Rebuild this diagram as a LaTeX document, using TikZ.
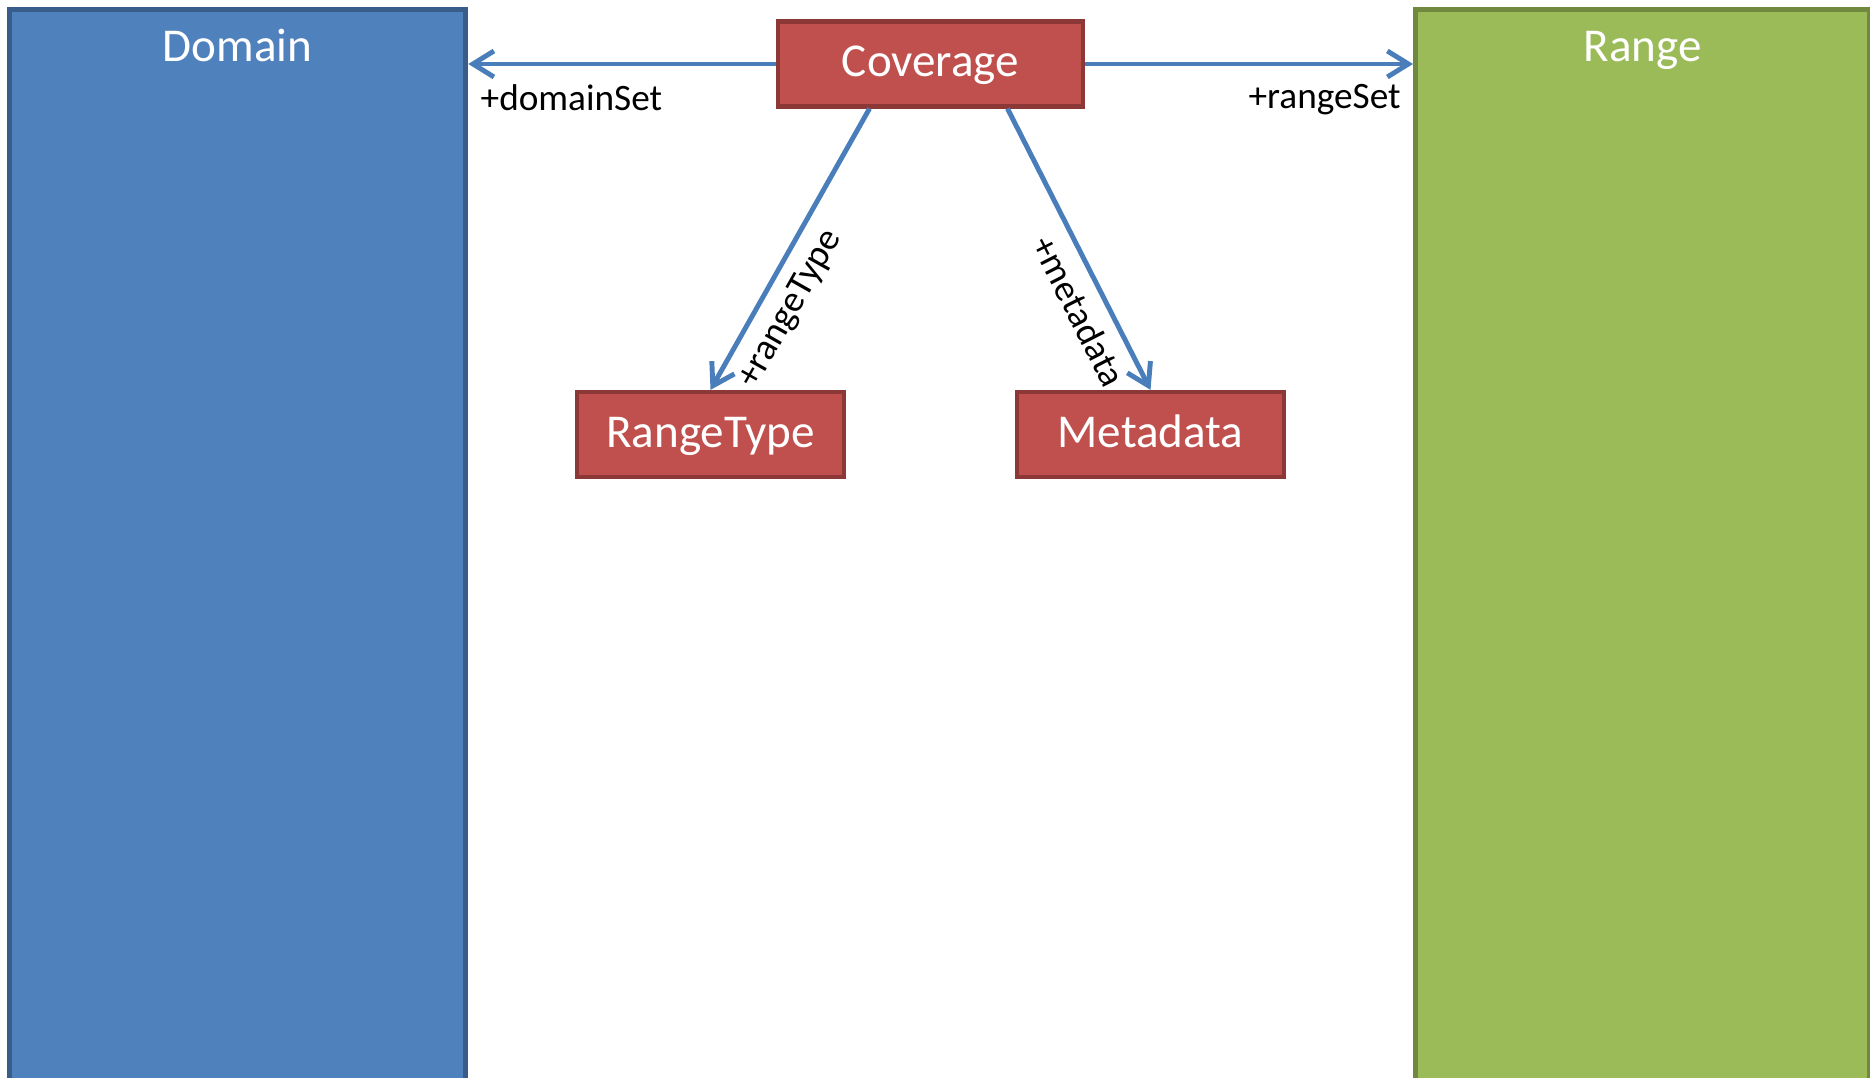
\documentclass[tikz,border=0pt]{standalone}
\usepackage{fontspec}
\setmainfont{Carlito}
\usetikzlibrary{arrows.meta,positioning}
\usepackage{xcolor}
\definecolor{domainfill}{HTML}{4F81BD}
\definecolor{domainline}{HTML}{385D8A}
\definecolor{rangefill}{HTML}{9BBB59}
\definecolor{rangeline}{HTML}{71893F}
\definecolor{classfill}{HTML}{C0504D}
\definecolor{classline}{HTML}{8C3836}
\definecolor{assocblue}{HTML}{4A7EBB}

\begin{document}
\begin{tikzpicture}[
    panel/.style={draw, line width=1.5pt, anchor=north west, minimum height=11cm, inner sep=0pt},
    paneltext/.style={text=white, inner sep=0pt, text height=0.7em, text depth=0.2em,
                      font=\fontsize{13.4}{16}\selectfont},
    classbox/.style={draw=classline, fill=classfill, line width=1.2pt, text=white, inner sep=0pt,
                     text height=0.8em, text depth=0.08em,
                     minimum height=0.85cm, font=\fontsize{13.4}{16}\selectfont},
    assoc/.style={draw=assocblue, line width=1.4pt, -{Straight Barb[length=2.1mm,width=2.6mm]}},
    role/.style={font=\fontsize{10.6}{13}\selectfont, inner sep=3.5pt}
]
    \useasboundingbox (0,0) rectangle (18.70,-10.78);

    % Domain and range panels
    \node[panel, draw=domainline, fill=domainfill, minimum width=4.56cm] (domain) at (0.07,-0.07) {};
    \node[panel, draw=rangeline, fill=rangefill, minimum width=4.54cm] (range) at (14.13,-0.07) {};
    \node[paneltext, below=2.9mm of domain.north] (domainname) {Domain};
    \node[paneltext, below=2.9mm of range.north] (rangename) {Range};

    % Classes
    \node[classbox, minimum width=3.05cm] (coverage) at (9.305,-0.64) {Coverage};
    \node[classbox, minimum width=2.67cm] (rangetype) at (7.105,-4.345) {RangeType};
    \node[classbox, minimum width=2.67cm] (metadata) at (11.505,-4.345) {Metadata};

    % Associations
    \draw[assoc] (coverage.west) -- (coverage.west -| domain.east)
        node[role, pos=1, below right=1.8mm and 1mm, inner sep=0pt] {+domainSet};
    \draw[assoc] (coverage.east) -- (coverage.east -| range.west)
        node[role, pos=1, below left=1.8mm and 1mm, inner sep=0pt] {+rangeSet};
    \draw[assoc] ([xshift=-6.1mm]coverage.south) -- (rangetype.north)
        node[role, pos=0.66, sloped, below] {+rangeType};
    \draw[assoc] ([xshift=7.7mm]coverage.south) -- (metadata.north)
        node[role, pos=0.675, sloped, below] {+metadata};
\end{tikzpicture}
\end{document}
